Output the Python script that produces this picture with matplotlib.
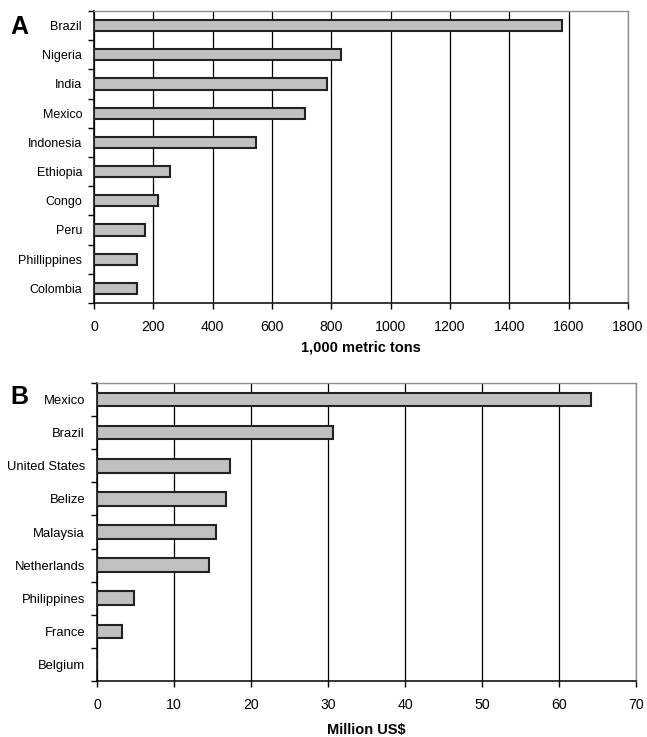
import matplotlib
matplotlib.use("Agg")
import matplotlib.pyplot as plt
from matplotlib.ticker import FixedLocator, NullFormatter

plt.rcParams['font.family'] = ['Liberation Sans', 'DejaVu Sans']

# Panel A: production, 1,000 metric tons
prod_countries = ["Brazil", "Nigeria", "India", "Mexico", "Indonesia",
                  "Ethiopia", "Congo", "Peru", "Phillippines", "Colombia"]
prod_values = [1576, 831, 786, 710, 547, 257, 216, 173, 145, 145]
prod_ticks = [0, 200, 400, 600, 800, 1000, 1200, 1400, 1600, 1800]

# Panel B: exports, million US$
exp_countries = ["Mexico", "Brazil", "United States", "Belize", "Malaysia",
                 "Netherlands", "Philippines", "France", "Belgium"]
exp_values = [64.1, 30.6, 17.3, 16.75, 15.45, 14.5, 4.8, 3.3, 0.0]
exp_ticks = [0, 10, 20, 30, 40, 50, 60, 70]

W, H = 647, 737
fig = plt.figure(figsize=(W / 100, H / 100), dpi=100)


def panel(rect, cats, vals, ticks, xlabel, letter, letter_y, xlabel_y,
          bar_h, cat_size):
    l, t, r, b = rect
    ax = fig.add_axes([l / W, 1 - b / H, (r - l) / W, (b - t) / H])
    n = len(cats)
    pos = list(range(n))
    ax.barh(pos, vals, height=bar_h, color="#c0c0c0", edgecolor="#222222",
            linewidth=1.5, zorder=3)
    ax.set_ylim(n - 0.5, -0.5)
    ax.set_xlim(ticks[0], ticks[-1])
    ax.set_xticks(ticks)
    ax.set_xticklabels([str(v) for v in ticks], fontsize=10.2)
    ax.tick_params(axis="x", direction="out", length=4, width=1, pad=8)
    ax.xaxis.grid(True, color="black", linewidth=0.9, zorder=0)
    ax.set_axisbelow(True)
    # category labels centred on bars, ticks at category boundaries
    ax.set_yticks(pos)
    ax.set_yticklabels(cats, fontsize=cat_size)
    ax.tick_params(axis="y", which="major", length=0, pad=8.6)
    ax.yaxis.set_minor_locator(FixedLocator([p - 0.5 for p in range(n + 1)]))
    ax.yaxis.set_minor_formatter(NullFormatter())
    ax.tick_params(axis="y", which="minor", direction="out", length=4, width=1)
    for s in ("left", "bottom"):
        ax.spines[s].set_color("black")
        ax.spines[s].set_linewidth(1.1)
    for s in ("top", "right"):
        ax.spines[s].set_color("#909090")
        ax.spines[s].set_linewidth(1.0)
    fig.text((l + (r - l) / 2) / W, 1 - xlabel_y / H, xlabel, ha="center",
             va="center", fontsize=10.5, fontweight="bold")
    fig.text(10 / W, 1 - letter_y / H, letter, ha="left", va="center",
             fontsize=18, fontweight="bold")
    return ax


panel((94, 11, 628, 303), prod_countries, prod_values, prod_ticks,
      "1,000 metric tons", "A", 27, 347, 0.38, 9.0)
panel((97, 383, 636, 681), exp_countries, exp_values, exp_ticks,
      "Million US$", "B", 397, 730, 0.41, 9.4)

fig.savefig("out.png", dpi=100)
